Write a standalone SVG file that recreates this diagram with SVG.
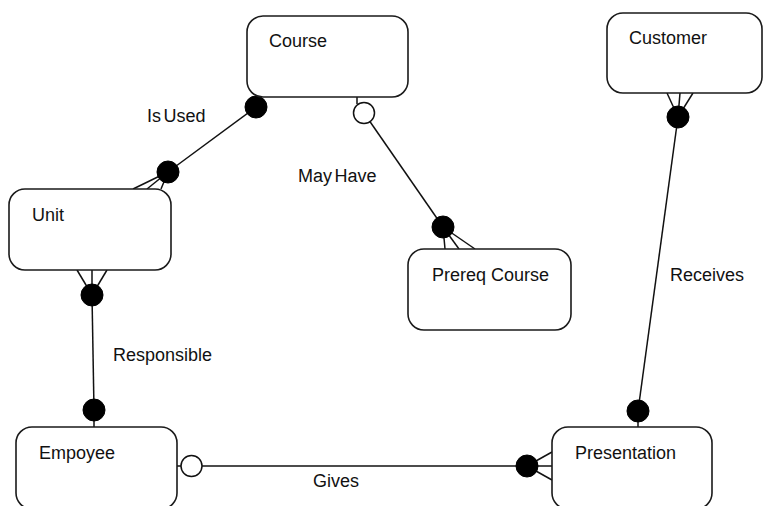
<svg xmlns="http://www.w3.org/2000/svg" width="763" height="506" viewBox="0 0 763 506">
  <style>
    .box { fill: #ffffff; stroke: #1a1a1a; stroke-width: 1.6; }
    .name { font-family: "Liberation Sans", Arial, sans-serif; font-size: 18px; fill: #111111; }
    .rel { font-family: "Liberation Sans", Arial, sans-serif; font-size: 18px; fill: #111111; }
    .tight { word-spacing: -2.5px; }
    .line { fill: none; stroke: #111111; stroke-width: 1.5; }
    .dot { fill: #000000; stroke: #000000; stroke-width: 1; }
    .ring { fill: #ffffff; stroke: #111111; stroke-width: 1.5; }
  </style>
  <rect width="763" height="506" fill="#ffffff"/>

  <!-- relationship lines, cardinality markers and labels -->
  <g id="connectors">
    <!-- Course — Unit : Is Used -->
    <line class="line" x1="256" y1="97" x2="256" y2="100"/>
    <line class="line" x1="256" y1="107" x2="168" y2="172"/>
    <line class="line" x1="168" y1="172" x2="133" y2="189"/>
    <line class="line" x1="168" y1="172" x2="147" y2="189"/>
    <line class="line" x1="168" y1="172" x2="161" y2="189"/>
    <circle class="dot" cx="256" cy="107" r="11"/>
    <circle class="dot" cx="168" cy="172" r="11"/>
    <text class="rel tight" x="147" y="122">Is Used</text>

    <!-- Course — Prereq Course : May Have -->
    <line class="line" x1="357" y1="97" x2="357" y2="104"/>
    <line class="line" x1="364" y1="113" x2="443" y2="227"/>
    <line class="line" x1="443" y1="227" x2="445" y2="249"/>
    <line class="line" x1="443" y1="227" x2="459" y2="249"/>
    <line class="line" x1="443" y1="227" x2="475" y2="249"/>
    <circle class="ring" cx="364" cy="113" r="10.5"/>
    <circle class="dot" cx="443" cy="227" r="11"/>
    <text class="rel tight" x="298" y="182">May Have</text>

    <!-- Unit — Empoyee : Responsible -->
    <line class="line" x1="92" y1="295" x2="94" y2="410"/>
    <line class="line" x1="92" y1="295" x2="77" y2="270"/>
    <line class="line" x1="92" y1="295" x2="92" y2="270"/>
    <line class="line" x1="92" y1="295" x2="107" y2="270"/>
    <line class="line" x1="94" y1="410" x2="94" y2="427"/>
    <circle class="dot" cx="92" cy="295" r="11"/>
    <circle class="dot" cx="94" cy="410" r="11"/>
    <text class="rel" x="113" y="361">Responsible</text>

    <!-- Customer — Presentation : Receives -->
    <line class="line" x1="678" y1="117" x2="638" y2="411"/>
    <line class="line" x1="678" y1="117" x2="667" y2="93"/>
    <line class="line" x1="678" y1="117" x2="680" y2="93"/>
    <line class="line" x1="678" y1="117" x2="693" y2="93"/>
    <line class="line" x1="638" y1="411" x2="638" y2="427"/>
    <circle class="dot" cx="678" cy="117" r="11"/>
    <circle class="dot" cx="638" cy="411" r="11"/>
    <text class="rel" x="670" y="281">Receives</text>

    <!-- Empoyee — Presentation : Gives -->
    <line class="line" x1="177" y1="466" x2="181" y2="466"/>
    <line class="line" x1="202" y1="466" x2="527" y2="466"/>
    <line class="line" x1="527" y1="466" x2="552" y2="452"/>
    <line class="line" x1="527" y1="466" x2="552" y2="466"/>
    <line class="line" x1="527" y1="466" x2="552" y2="480"/>
    <circle class="ring" cx="191.5" cy="466" r="10.5"/>
    <circle class="dot" cx="527" cy="466" r="11"/>
    <text class="rel" x="313" y="487">Gives</text>
  </g>

  <!-- entities -->
  <g id="course">
    <rect class="box" x="247" y="16" width="161" height="81" rx="16"/>
    <text class="name" x="269" y="47">Course</text>
  </g>
  <g id="unit">
    <rect class="box" x="9" y="189" width="162" height="81" rx="16"/>
    <text class="name" x="32" y="221">Unit</text>
  </g>
  <g id="prereq-course">
    <rect class="box" x="408" y="249" width="163" height="81" rx="16"/>
    <text class="name" x="432" y="281">Prereq Course</text>
  </g>
  <g id="customer">
    <rect class="box" x="607" y="13" width="155" height="80" rx="16"/>
    <text class="name" x="629" y="44">Customer</text>
  </g>
  <g id="empoyee">
    <rect class="box" x="16" y="427" width="161" height="82" rx="16"/>
    <text class="name" x="39" y="459">Empoyee</text>
  </g>
  <g id="presentation">
    <rect class="box" x="552" y="427" width="160" height="82" rx="16"/>
    <text class="name" x="575" y="459">Presentation</text>
  </g>
</svg>
